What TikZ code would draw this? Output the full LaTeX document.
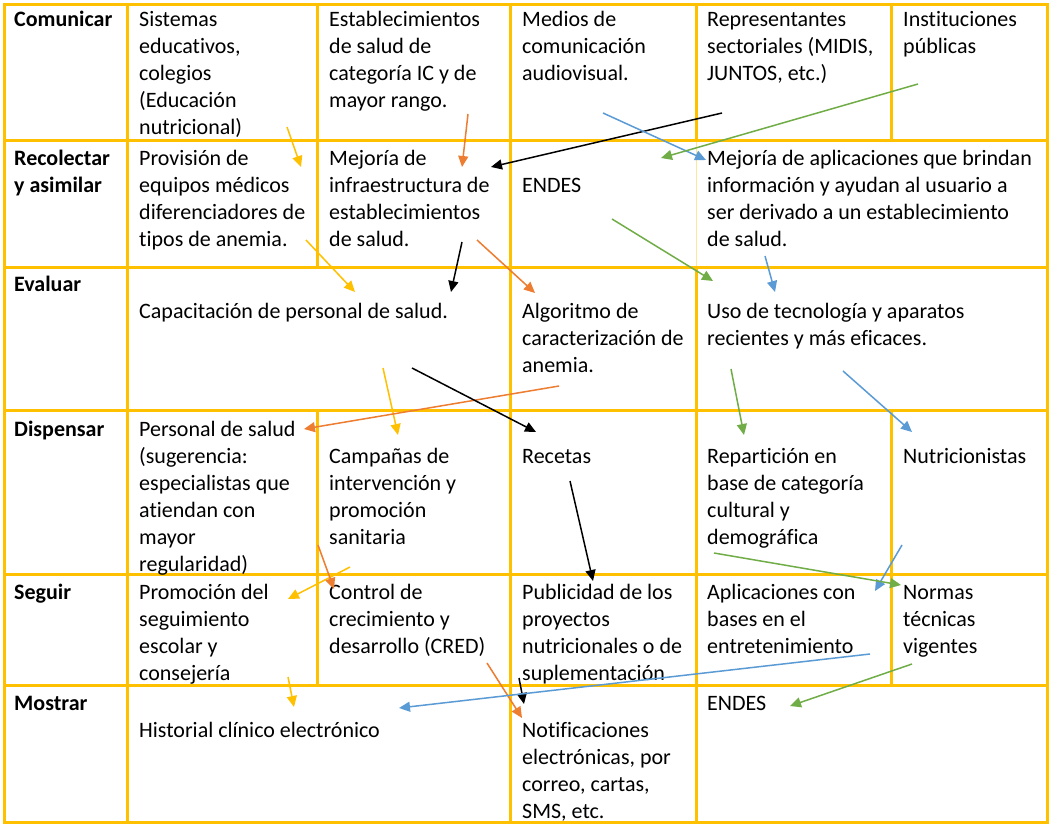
\documentclass[tikz,border=0pt]{standalone}
\usepackage{fontspec}
\setmainfont{Carlito}[Ligatures=NoCommon]
\usetikzlibrary{arrows.meta}
\definecolor{gold}{HTML}{FFC000}
\definecolor{faint}{HTML}{FFE699}
\definecolor{ylw}{HTML}{FFC000}
\definecolor{org}{HTML}{ED7D31}
\definecolor{blu}{HTML}{5B9BD5}
\definecolor{grn}{HTML}{70AD47}
\newcommand\celltxt[1]{\begin{tabular}[t]{@{}l@{}}#1\end{tabular}}
\begin{document}
\begin{tikzpicture}[x=1pt,y=-1pt,
  gridline/.style={draw=gold, line width=3pt},
  faintline/.style={draw=faint, line width=0.8pt},
  txt/.style={anchor=base west, inner sep=0pt, font=\fontsize{22}{27}\selectfont},
  hdr/.style={anchor=base west, inner sep=0pt, font=\fontsize{22}{27}\selectfont\bfseries},
  arr/.style={line width=1.5pt, -{Triangle[length=11pt,width=10pt]}}]
\useasboundingbox (0,0) rectangle (1053,828);
\fill[white] (0,0) rectangle (1053,828);
% grid
\draw[faintline] (696.5,140.5) -- (696.5,267);
\foreach \yy in {140.5,267,410,574,685} \draw[gridline] (4,\yy) -- (1047,\yy);
\draw[gridline] (127.5,4.5) -- (127.5,822);
\draw[gridline] (317.5,4.5) -- (317.5,267);
\draw[gridline] (317.5,410) -- (317.5,685);
\draw[gridline] (510,4.5) -- (510,822);
\draw[gridline] (696.5,4.5) -- (696.5,140.5);
\draw[gridline] (696.5,267) -- (696.5,822);
\draw[gridline] (891.5,4.5) -- (891.5,140.5);
\draw[gridline] (891.5,410) -- (891.5,685);
\draw[gridline] (4,4.5) rectangle (1047,822);
% headers
\node[hdr] (h1) at (14,26) {Comunicar};
\node[hdr] (h2) at (14,165) {\celltxt{Recolectar\\y asimilar}};
\node[hdr] (h3) at (14,291) {Evaluar};
\node[hdr] (h4) at (14,436) {Dispensar};
\node[hdr] (h5) at (14,599) {Seguir};
\node[hdr] (h6) at (14,710) {Mostrar};
% row 1
\node[txt] (r1a) at (139,26) {\celltxt{Sistemas\\educativos,\\colegios\\(Educación\\nutricional)}};
\node[txt] (r1b) at (329,26) {\celltxt{Establecimientos\\de salud de\\categoría IC y de\\mayor rango.}};
\node[txt] (r1c) at (522,26) {\celltxt{Medios de\\comunicación\\audiovisual.}};
\node[txt] (r1d) at (707,26) {\celltxt{Representantes\\sectoriales (MIDIS,\\JUNTOS, etc.)}};
\node[txt] (r1e) at (903,26) {\celltxt{Instituciones\\públicas}};
% row 2
\node[txt] (r2a) at (139,165) {\celltxt{Provisión de\\equipos médicos\\diferenciadores de\\tipos de anemia.}};
\node[txt] (r2b) at (329,165) {\celltxt{Mejoría de\\infraestructura de\\establecimientos\\de salud.}};
\node[txt] (r2c) at (522,192) {ENDES};
\node[txt] (r2d) at (707,165) {\celltxt{Mejoría de aplicaciones que brindan\\información y ayudan al usuario a\\ser derivado a un establecimiento\\de salud.}};
% row 3
\node[txt] (r3a) at (139,318) {Capacitación de personal de salud.};
\node[txt] (r3b) at (522,318) {\celltxt{Algoritmo de\\caracterización de\\anemia.}};
\node[txt] (r3c) at (707,318) {\celltxt{Uso de tecnología y aparatos\\recientes y más eficaces.}};
% row 4
\node[txt] (r4a) at (139,436) {\celltxt{Personal de salud\\(sugerencia:\\especialistas que\\atiendan con\\mayor\\regularidad)}};
\node[txt] (r4b) at (329,463) {\celltxt{Campañas de\\intervención y\\promoción\\sanitaria}};
\node[txt] (r4c) at (522,463) {Recetas};
\node[txt] (r4d) at (707,463) {\celltxt{Repartición en\\base de categoría\\cultural y\\demográfica}};
\node[txt] (r4e) at (903,463) {Nutricionistas};
% row 5
\node[txt] (r5a) at (139,599) {\celltxt{Promoción del\\seguimiento\\escolar y\\consejería}};
\node[txt] (r5b) at (329,599) {\celltxt{Control de\\crecimiento y\\desarrollo (CRED)}};
\node[txt] (r5c) at (522,599) {\celltxt{Publicidad de los\\proyectos\\nutricionales o de\\suplementación}};
\node[txt] (r5d) at (707,599) {\celltxt{Aplicaciones con\\bases en el\\entretenimiento}};
\node[txt] (r5e) at (903,599) {\celltxt{Normas\\técnicas\\vigentes}};
% row 6
\node[txt] (r6a) at (139,737) {Historial clínico electrónico};
\node[txt] (r6b) at (522,737) {\celltxt{Notificaciones\\electrónicas, por\\correo, cartas,\\SMS, etc.}};
\node[txt] (r6c) at (707,710) {ENDES};
% arrow end points
\coordinate (y1s) at (287,127); \coordinate (y1e) at (301,167);
\coordinate (y2s) at (306,240); \coordinate (y2e) at (355,292);
\coordinate (y3s) at (383,368); \coordinate (y3e) at (398,435);
\coordinate (y4s) at (350,567); \coordinate (y4e) at (288,599);
\coordinate (y5s) at (288,677); \coordinate (y5e) at (294,707);
\coordinate (o1s) at (468,114); \coordinate (o1e) at (462,167);
\coordinate (o2s) at (477,240); \coordinate (o2e) at (535,293);
\coordinate (o3s) at (559,386); \coordinate (o3e) at (304,429);
\coordinate (o4s) at (318,545); \coordinate (o4e) at (334,589);
\coordinate (o5s) at (487,663); \coordinate (o5e) at (522,718);
\coordinate (k1s) at (722,113); \coordinate (k1e) at (491,167);
\coordinate (k2s) at (462,242); \coordinate (k2e) at (451,292);
\coordinate (k3s) at (412,368); \coordinate (k3e) at (536,432);
\coordinate (k4s) at (570,481); \coordinate (k4e) at (593,581);
\coordinate (k5s) at (519,678); \coordinate (k5e) at (524,704);
\coordinate (b1s) at (603,113); \coordinate (b1e) at (706,160);
\coordinate (b2s) at (765,256); \coordinate (b2e) at (775,292);
\coordinate (b3s) at (843,371); \coordinate (b3e) at (912,432);
\coordinate (b4s) at (902,545); \coordinate (b4e) at (875,591);
\coordinate (b5s) at (870,654); \coordinate (b5e) at (399,708);
\coordinate (g1s) at (918,84);  \coordinate (g1e) at (661,158);
\coordinate (g2s) at (612,219); \coordinate (g2e) at (713,281);
\coordinate (g3s) at (731,369); \coordinate (g3e) at (744,435);
\coordinate (g4s) at (714,553); \coordinate (g4e) at (901,585);
\coordinate (g5s) at (912,664); \coordinate (g5e) at (790,706);
% arrows
\foreach \a in {y1,y2,y3,y4,y5} \draw[arr, draw=ylw, -{Triangle[length=11pt,width=10pt,fill=ylw]}] (\a s) -- (\a e);
\foreach \a in {o1,o2,o3,o4,o5} \draw[arr, draw=org, -{Triangle[length=11pt,width=10pt,fill=org]}] (\a s) -- (\a e);
\foreach \a in {k1,k2,k3,k4,k5} \draw[arr, draw=black] (\a s) -- (\a e);
\foreach \a in {b1,b2,b3,b4,b5} \draw[arr, draw=blu, -{Triangle[length=11pt,width=10pt,fill=blu]}] (\a s) -- (\a e);
\foreach \a in {g1,g2,g3,g4,g5} \draw[arr, draw=grn, -{Triangle[length=11pt,width=10pt,fill=grn]}] (\a s) -- (\a e);
\end{tikzpicture}
\end{document}
